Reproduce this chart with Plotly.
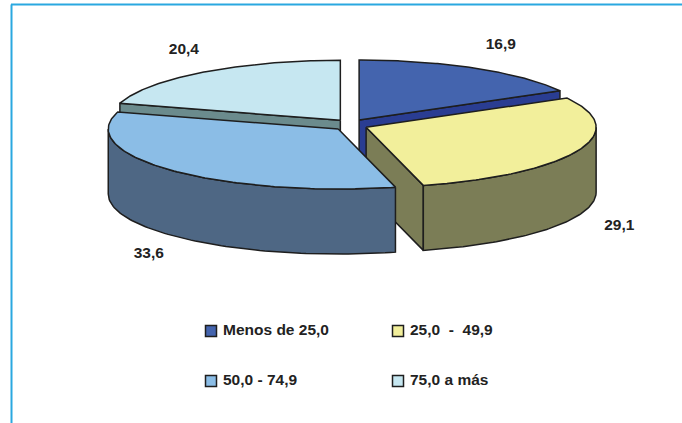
import numpy as np
import plotly.graph_objects as go

# ---------------- data ----------------
categories = ["Menos de 25,0", "25,0  -  49,9", "50,0 - 74,9", "75,0 a más"]
values = [16.9, 29.1, 33.6, 20.4]
value_labels = ["16,9", "29,1", "33,6", "20,4"]

# ---------------- styles ----------------
top_colors = ["#4464AE", "#F2EF9B", "#8BBDE6", "#C6E7F1"]
side_colors = ["#2A3D92", "#7B7D56", "#4E6784", "#6B8B8D"]
EDGE = "#1E1E1E"
FONT = "Liberation Sans Narrow, Arial Narrow, Liberation Sans, Arial, sans-serif"
FONT_SIZE = 15.5

# pie geometry (pixel space)
CX, CY = 350.5, 125.0
RX, RY = 230.0, 60.0
DEPTH = 65.0
EXPLODE_X, EXPLODE_Y = 17.0, 5.8
LABEL_RX, LABEL_RY = 270.0, 87.0
LABEL_DX = 5.0

# legend layout
LEG_X = [211, 398]
LEG_Y = [331, 381]
LEG_TEXT_GAP = 12

W, H = 682, 423

total = sum(values)
bounds = np.concatenate([[0.0], np.cumsum(values)]) / total * 360.0


def rim(vx, vy, th, dz=0.0):
    t = np.radians(np.asarray(th, dtype=float))
    return vx + RX * np.sin(t), vy - RY * np.cos(t) + dz


def poly(xs, ys, fill):
    return go.Scatter(x=list(xs), y=list(ys), mode="lines", fill="toself",
                      fillcolor=fill, line=dict(color=EDGE, width=1.5),
                      hoverinfo="skip", showlegend=False)


faces, walls, tops = [], [], []
label_x, label_y = [], []
for i, v in enumerate(values):
    a0, a1 = bounds[i], bounds[i + 1]
    am = np.radians((a0 + a1) / 2)
    vx = CX + EXPLODE_X * np.sin(am)
    vy = CY - EXPLODE_Y * np.cos(am)

    # radial cut faces (visible if their normal points toward the viewer)
    for a, nrm in ((a0, a0 - 90), (a1, a1 + 90)):
        if np.cos(np.radians(nrm)) < -1e-6:
            rx_, ry_ = rim(vx, vy, a)
            faces.append(poly([vx, rx_, rx_, vx, vx],
                              [vy, ry_, ry_ + DEPTH, vy + DEPTH, vy],
                              side_colors[i]))

    # outer curved wall (front half only)
    lo, hi = max(a0, 90.0), min(a1, 270.0)
    if lo < hi:
        th = np.linspace(lo, hi, 80)
        tx, ty = rim(vx, vy, th)
        bx, by = rim(vx, vy, th[::-1], DEPTH)
        walls.append(poly(np.concatenate([tx, bx, tx[:1]]),
                          np.concatenate([ty, by, ty[:1]]),
                          side_colors[i]))

    # top face
    th = np.linspace(a0, a1, 120)
    tx, ty = rim(vx, vy, th)
    tops.append(poly(np.concatenate([[vx], tx, [vx]]),
                     np.concatenate([[vy], ty, [vy]]),
                     top_colors[i]))

    # data label position
    lx = vx + LABEL_RX * np.sin(am) + LABEL_DX
    ly = vy - LABEL_RY * np.cos(am) + (DEPTH if np.cos(am) < 0 else 0)
    label_x.append(lx)
    label_y.append(ly)

fig = go.Figure()
for tr in faces + walls + tops:
    fig.add_trace(tr)

fig.add_trace(go.Scatter(
    x=label_x, y=label_y, mode="text", text=value_labels,
    textposition="middle center",
    textfont=dict(family=FONT, size=FONT_SIZE, color="#222222", weight="bold"),
    hoverinfo="skip", showlegend=False))

# legend (2 x 2 grid)
mk_x = [LEG_X[i % 2] for i in range(len(categories))]
mk_y = [LEG_Y[i // 2] for i in range(len(categories))]
fig.add_trace(go.Scatter(
    x=mk_x, y=mk_y, mode="markers",
    marker=dict(symbol="square", size=11, color=top_colors,
                line=dict(color=EDGE, width=1.5)),
    hoverinfo="skip", showlegend=False))
fig.add_trace(go.Scatter(
    x=[x + LEG_TEXT_GAP for x in mk_x], y=mk_y, mode="text", text=categories,
    textposition="middle right",
    textfont=dict(family=FONT, size=FONT_SIZE, color="#222222", weight="bold"),
    hoverinfo="skip", showlegend=False))

# frame lines
fig.add_shape(type="line", x0=11, y0=4.5, x1=W + 5, y1=4.5,
              line=dict(color="#2AA8E0", width=2))
fig.add_shape(type="line", x0=11.5, y0=4.5, x1=11.5, y1=H + 5,
              line=dict(color="#2AA8E0", width=2))

fig.update_layout(
    width=W, height=H, autosize=False,
    margin=dict(l=0, r=0, t=0, b=0),
    paper_bgcolor="white", plot_bgcolor="white",
    showlegend=False, hovermode=False,
    xaxis=dict(range=[0, W], visible=False, fixedrange=True),
    yaxis=dict(range=[H, 0], visible=False, fixedrange=True),
)

fig.write_html("out.html",
               config={"displayModeBar": False, "staticPlot": True},
               post_script="document.body.style.margin='0';"
                           "document.body.style.overflow='hidden';")
